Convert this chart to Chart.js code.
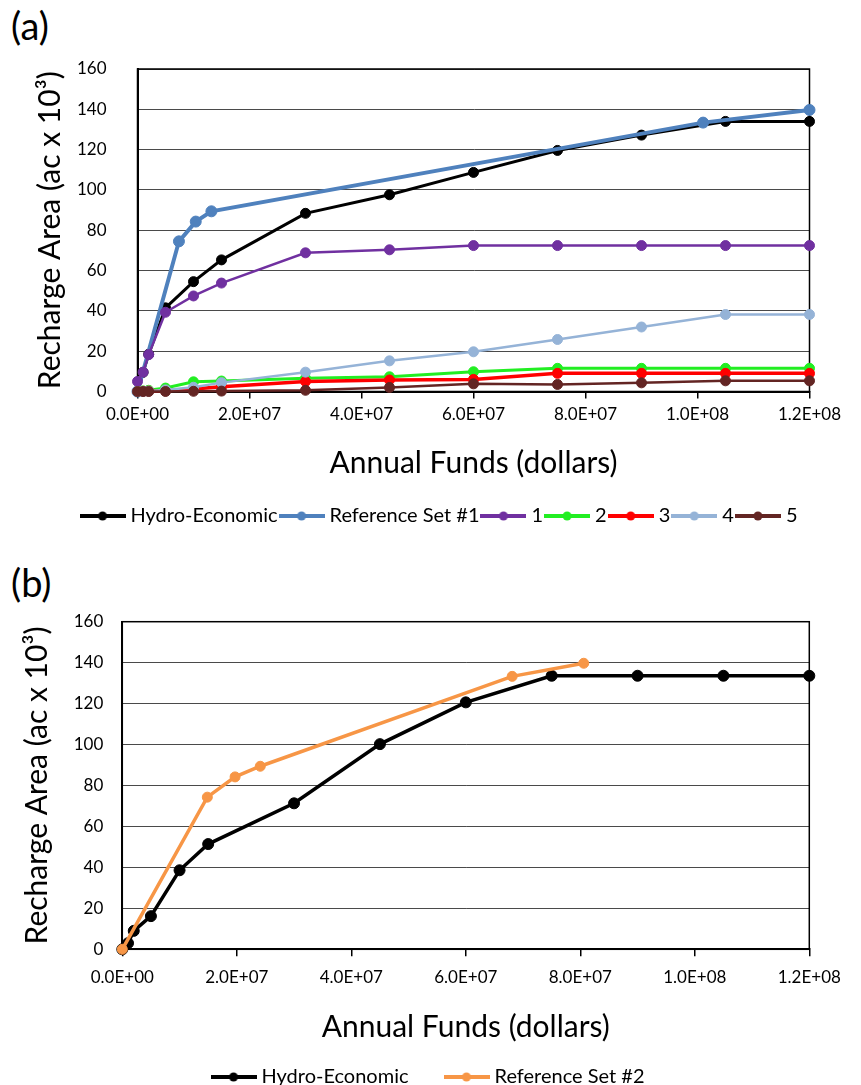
<!DOCTYPE html>
<html><head><meta charset="utf-8">
<script src="https://cdn.jsdelivr.net/npm/chart.js@4.4.0/dist/chart.umd.min.js"></script>
<style>
html,body{margin:0;padding:0;background:#fff;overflow:hidden;width:861px;height:1085px;}
.panel{position:absolute;left:0;}
.lbl{position:absolute;left:11px;font-family:Lato,"DejaVu Sans",sans-serif;font-size:38px;line-height:38px;color:#000;}
</style></head><body>
<div class="lbl" style="top:6px">(a)</div>
<div class="lbl" style="top:563px">(b)</div>
<canvas id="ca" class="panel" style="top:0px" width="861" height="560"></canvas>
<canvas id="cb" class="panel" style="top:560px" width="861" height="545"></canvas>
<script>
// ---------- data: panel (a) ----------
const fundsA      = [0, 1e6, 2e6, 5e6, 1e7, 1.5e7, 3e7, 4.5e7, 6e7, 7.5e7, 9e7, 1.05e8, 1.2e8];
const hydroA      = [0, 9.5, 18.5, 41.5, 54.5, 65.3, 88.4, 97.6, 108.7, 119.6, 127.2, 134.0, 134.0];
const refSet1Funds= [0, 7.4e6, 1.04e7, 1.32e7, 1.01e8, 1.2e8];
const refSet1     = [0, 74.5, 84.3, 89.4, 133.4, 139.7];
const scen1       = [5.0, 9.6, 18.3, 39.3, 47.4, 53.8, 68.8, 70.3, 72.4, 72.4, 72.4, 72.4, 72.4];
const scen2       = [0, 0.3, 0.6, 1.7, 4.8, 5.2, 6.6, 7.3, 9.8, 11.5, 11.5, 11.5, 11.5];
const scen3       = [0, 0.1, 0.2, 0.4, 1.3, 2.3, 5.0, 5.7, 6.0, 9.0, 9.0, 9.0, 9.0];
const scen4       = [0, 0.1, 0.2, 0.8, 2.1, 4.4, 9.6, 15.2, 19.7, 25.8, 32.0, 38.2, 38.2];
const scen5       = [0, 0, 0, 0, 0.1, 0.2, 0.6, 2.0, 3.8, 3.5, 4.3, 5.3, 5.3];
const seriesNamesA= ['Hydro-Economic', 'Reference Set #1', '1', '2', '3', '4', '5'];
// ---------- data: panel (b) ----------
const fundsB      = [0, 1e6, 2e6, 5e6, 1e7, 1.5e7, 3e7, 4.5e7, 6e7, 7.5e7, 9e7, 1.05e8, 1.2e8];
const hydroB      = [0, 3.0, 9.0, 16.2, 38.6, 51.4, 71.3, 100.2, 120.6, 133.6, 133.6, 133.6, 133.6];
const refSet2Funds= [0, 1.485e7, 1.97e7, 2.41e7, 6.81e7, 8.06e7];
const refSet2     = [0, 74.3, 84.2, 89.4, 133.3, 139.7];
const seriesNamesB= ['Hydro-Economic', 'Reference Set #2'];
// ---------- axis ticks ----------
const yTicks = [0, 20, 40, 60, 80, 100, 120, 140, 160];
const xTicks = [0, 2e7, 4e7, 6e7, 8e7, 1e8, 1.2e8];
const yTitle = 'Recharge Area (ac x 10\u00B3)';
const xTitle = 'Annual Funds (dollars)';

const FONT = 'Lato, "DejaVu Sans", sans-serif';
const pts = (xs, ys) => xs.map((x, i) => ({x: x, y: ys[i]}));
function sci(v){
  if (v === 0) return '0.0E+00';
  const e = Math.floor(Math.log10(Math.abs(v)) + 1e-9);
  const m = v / Math.pow(10, e);
  return m.toFixed(1) + 'E+' + String(e).padStart(2, '0');
}
function icon(color){
  const c = document.createElement('canvas');
  c.width = 46; c.height = 12;
  const g = c.getContext('2d');
  g.strokeStyle = color; g.lineWidth = 4;
  g.beginPath(); g.moveTo(0, 6); g.lineTo(46, 6); g.stroke();
  g.fillStyle = color; g.beginPath(); g.arc(23, 6, 4.5, 0, Math.PI*2); g.fill();
  return c;
}
function ds(label, data, color, lw, r, order){
  return {label, data, borderColor: color, backgroundColor: color, pointBackgroundColor: color,
    pointBorderColor: color, pointBorderWidth: 1, borderWidth: lw, pointRadius: r, pointHoverRadius: r,
    tension: 0, showLine: true, clip: false, order};
}
const frame = {
  id: 'frame',
  beforeDatasetsDraw(chart){
    const a = chart.chartArea, c = chart.ctx;
    c.save(); c.strokeStyle = '#000'; c.lineWidth = 1.5;
    c.strokeRect(a.left, a.top, a.right - a.left, a.bottom - a.top);
    c.restore();
  }
};
function makeOptions(cfg){
  return {
    responsive: false, animation: false, devicePixelRatio: 1,
    layout: {padding: {left: cfg.padL, right: cfg.padR, top: cfg.padT, bottom: 0}},
    plugins: {
      tooltip: {enabled: false},
      legend: {
        position: 'bottom',
        labels: {
          usePointStyle: true, pointStyleWidth: 36, boxHeight: 12,
          padding: cfg.legPad, color: '#000', font: {family: FONT, size: 20},
          generateLabels: (chart) => {
            const items = Chart.defaults.plugins.legend.labels.generateLabels(chart);
            items.forEach(it => { it.pointStyle = icon(chart.data.datasets[it.datasetIndex].borderColor); });
            return items;
          },
          sort: (a, b) => a.datasetIndex - b.datasetIndex
        }
      }
    },
    scales: {
      x: {
        type: 'linear', min: 0, max: 1.2e8,
        afterBuildTicks: (s) => { s.ticks = xTicks.map(v => ({value: v})); },
        afterFit: (s) => { s.height = cfg.xH; },
        ticks: {callback: (v) => sci(v), color: '#000', font: {family: FONT, size: 17}, padding: cfg.xPad, maxRotation: 0, autoSkip: false},
        grid: {display: true, drawOnChartArea: false, drawTicks: true, tickLength: 7, color: '#000', lineWidth: 1.5},
        border: {display: true, color: '#000', width: 2},
        title: {display: true, text: xTitle, color: '#000', font: {family: FONT, size: 30}, padding: {top: 0, bottom: cfg.xTitlePad}}
      },
      y: {
        type: 'linear', min: 0, max: 160,
        afterBuildTicks: (s) => { s.ticks = yTicks.map(v => ({value: v})); },
        afterFit: (s) => { s.width = cfg.yW; },
        ticks: {color: '#000', font: {family: FONT, size: 17}, padding: cfg.yPad},
        grid: {display: true, drawTicks: false, color: '#4a4a4a', lineWidth: 1},
        border: {display: true, color: '#000', width: 2},
        title: {display: true, text: yTitle, color: '#000', font: {family: FONT, size: 30}, padding: {top: cfg.yTitlePad, bottom: 0}}
      }
    }
  };
}
function pin(chart, target){
  for (let i = 0; i < 4; i++) {
    const d = chart.chartArea.bottom - target;
    if (Math.abs(d) < 0.2) break;
    chart.options.layout.padding.bottom += d;
    chart.update('none');
  }
}

const chartA = new Chart(document.getElementById('ca'), {
  type: 'scatter',
  data: {datasets: [
    ds(seriesNamesA[0], pts(fundsA, hydroA), '#000000', 3, 5, 6),
    ds(seriesNamesA[1], pts(refSet1Funds, refSet1), '#4F81BD', 4, 5.5, 5),
    ds(seriesNamesA[2], pts(fundsA, scen1), '#7030A0', 2.5, 5, 4),
    ds(seriesNamesA[3], pts(fundsA, scen2), '#22EE22', 3, 5, 3),
    ds(seriesNamesA[4], pts(fundsA, scen3), '#FF0000', 3.5, 5, 2),
    ds(seriesNamesA[5], pts(fundsA, scen4), '#95B3D7', 2.5, 5, 1),
    ds(seriesNamesA[6], pts(fundsA, scen5), '#632523', 2.5, 5, 0)
  ]},
  options: makeOptions({padL: 72.5, padR: 51.5, padT: 69, yW: 65, yPad: 31, yTitlePad: -40,
    xH: 108.5, xPad: 6, xTitlePad: 19, legPad: 6}),
  plugins: [frame]
});
pin(chartA, 391.5);

const chartB = new Chart(document.getElementById('cb'), {
  type: 'scatter',
  data: {datasets: [
    ds(seriesNamesB[0], pts(fundsB, hydroB), '#000000', 3.5, 5.5, 1),
    ds(seriesNamesB[1], pts(refSet2Funds, refSet2), '#F79646', 3.5, 5, 0)
  ]},
  options: makeOptions({padL: 50.7, padR: 51.7, padT: 61.7, yW: 71.6, yPad: 19, yTitlePad: -31.7,
    xH: 77.7, xPad: 11.5, xTitlePad: -18, legPad: 40}),
  plugins: [frame]
});
pin(chartB, 389.3);
</script>
</body></html>
